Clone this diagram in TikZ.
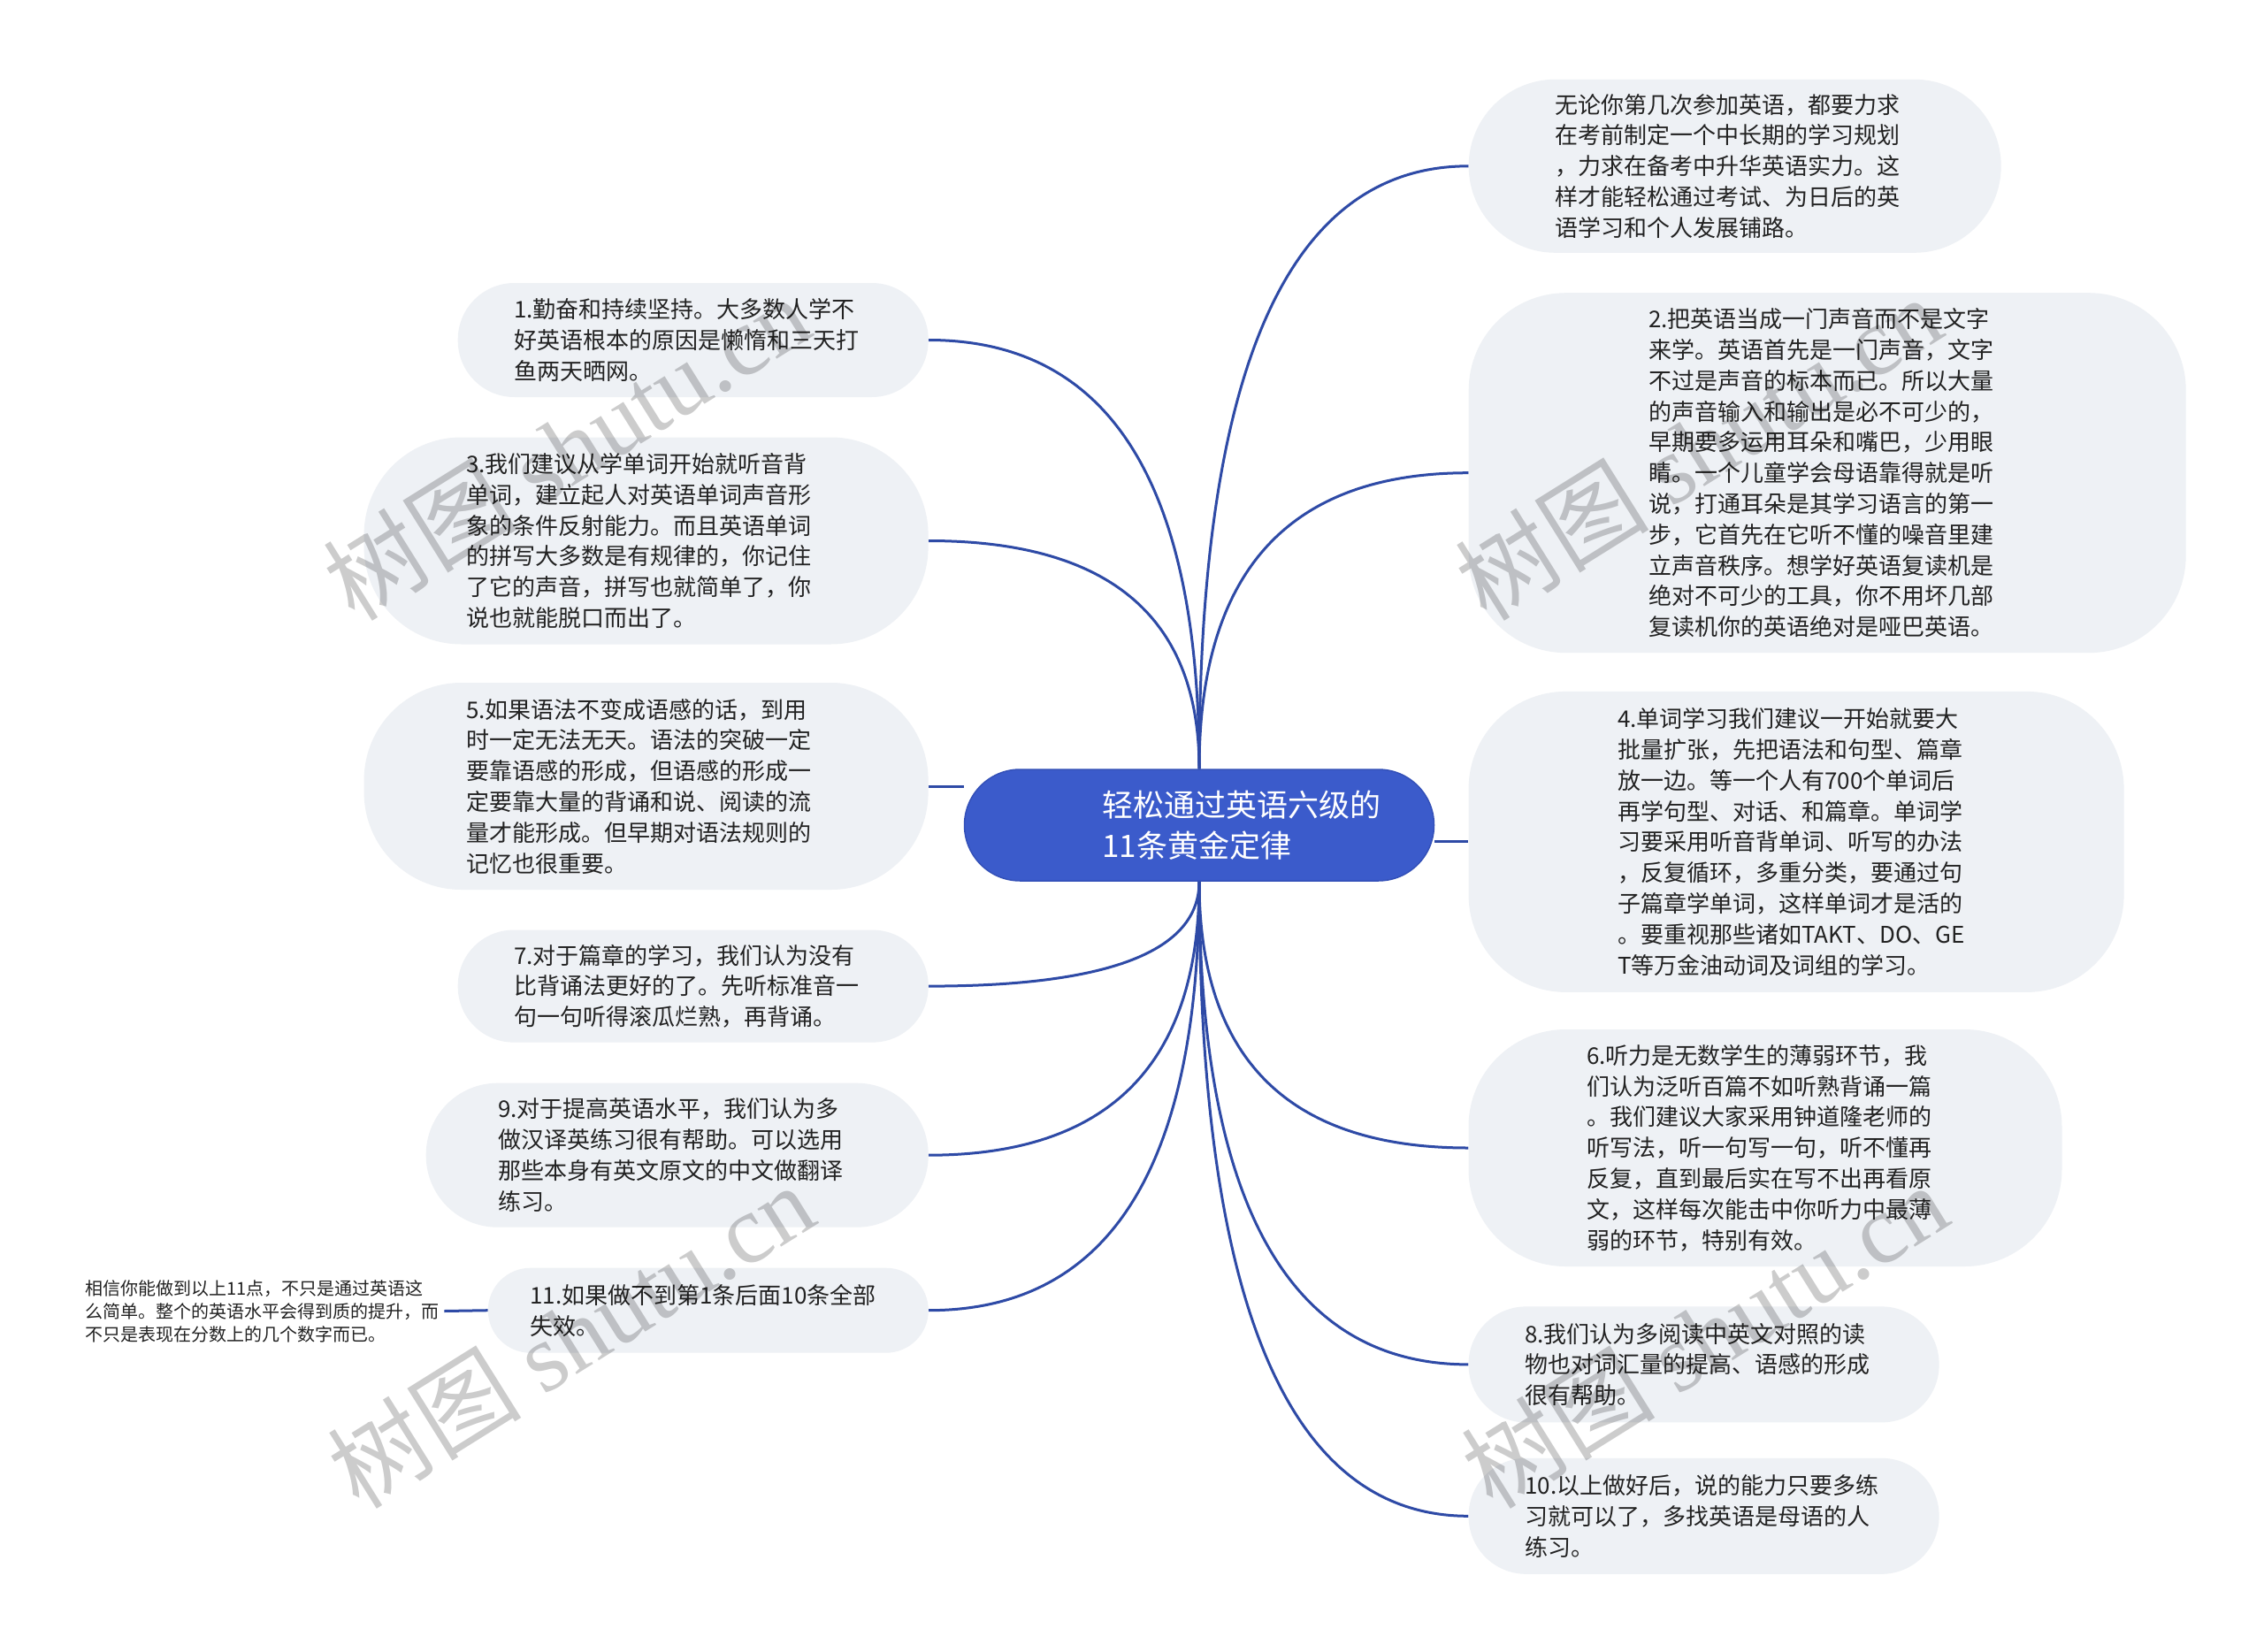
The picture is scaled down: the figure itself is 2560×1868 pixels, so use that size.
\documentclass[tikz,border=0pt]{standalone}
\usepackage{fontspec}
\newfontfamily\cjk{Noto Sans CJK SC}
\newfontfamily\wmserif{Liberation Serif}
\usetikzlibrary{calc,backgrounds}
\definecolor{bubblefill}{HTML}{EEF1F5}
\definecolor{centerfill}{HTML}{3B5BCB}
\definecolor{centerline}{HTML}{3350B8}
\definecolor{linkblue}{HTML}{2E4AA6}
\definecolor{txtcol}{HTML}{222222}
\begin{document}
\begin{tikzpicture}[x=1pt,y=-1pt,
  bubble/.style={shape=rectangle, fill=bubblefill, rounded corners=#1, inner sep=0pt},
  bubble/.default=60,
  txtnode/.style={anchor=west, inner sep=0pt, align=left, text=txtcol,
     font=\cjk\fontsize{26pt}{34.8pt}\selectfont},
  smalltxt/.style={anchor=west, inner xsep=6pt, inner ysep=0pt, align=left, text=txtcol,
     font=\cjk\fontsize{20pt}{26.1pt}\selectfont},
  centerbox/.style={shape=rectangle, fill=centerfill, draw=centerline, line width=1.5pt,
     rounded corners=63, inner sep=0pt, minimum width=531, minimum height=126},
  centertxt/.style={anchor=west, inner sep=0pt, align=left, text=white,
     font=\cjk\fontsize{35pt}{46pt}\selectfont},
  conn/.style={draw=linkblue, line width=3pt},
  branchcurve/.style={to path={.. controls ($(\tikztostart)!0.667!(\tikztostart |- \tikztotarget)$) and ($(\tikztotarget)!0.667!(\tikztostart |- \tikztotarget)$) .. (\tikztotarget)}},
  wmark/.style={rotate=32, text=black, text opacity=0.2, inner sep=0pt,
     font=\fontsize{110pt}{110pt}\selectfont}
]
\useasboundingbox (0,0) rectangle (2560,1868);

% central topic
\node[centerbox] (c) at (1356,933) {};
\node[centertxt] (ct) at (1246,933) {轻松通过英语六级的\\11条黄金定律};

% right side
\node[bubble=98, minimum width=602, minimum height=196] (r0) at (1961.7,187.8) {};
\node[txtnode] (tr0) at (1758,187.8) {无论你第几次参加英语，都要力求\\在考前制定一个中长期的学习规划\\，力求在备考中升华英语实力。这\\样才能轻松通过考试、为日后的英\\语学习和个人发展铺路。};

\node[bubble=110, minimum width=811, minimum height=407] (r1) at (2066.2,534.7) {};
\node[txtnode] (tr1) at (1864,534.7) {2.把英语当成一门声音而不是文字\\来学。英语首先是一门声音，文字\\不过是声音的标本而已。所以大量\\的声音输入和输出是必不可少的，\\早期要多运用耳朵和嘴巴，少用眼\\睛。一个儿童学会母语靠得就是听\\说，打通耳朵是其学习语言的第一\\步，它首先在它听不懂的噪音里建\\立声音秩序。想学好英语复读机是\\绝对不可少的工具，你不用坏几部\\复读机你的英语绝对是哑巴英语。};

\node[bubble=110, minimum width=741, minimum height=340] (r2) at (2031.1,951.9) {};
\node[txtnode] (tr2) at (1829,951.9) {4.单词学习我们建议一开始就要大\\批量扩张，先把语法和句型、篇章\\放一边。等一个人有700个单词后\\再学句型、对话、和篇章。单词学\\习要采用听音背单词、听写的办法\\，反复循环，多重分类，要通过句\\子篇章学单词，这样单词才是活的\\。要重视那些诸如TAKT、DO、GE\\T等万金油动词及词组的学习。};

\node[bubble=110, minimum width=671, minimum height=268] (r3) at (1996,1298) {};
\node[txtnode] (tr3) at (1794,1298) {6.听力是无数学生的薄弱环节，我\\们认为泛听百篇不如听熟背诵一篇\\。我们建议大家采用钟道隆老师的\\听写法，听一句写一句，听不懂再\\反复，直到最后实在写不出再看原\\文，这样每次能击中你听力中最薄\\弱的环节，特别有效。};

\node[bubble=65, minimum width=532, minimum height=131] (r4) at (1926.6,1542.9) {};
\node[txtnode] (tr4) at (1724,1542.9) {8.我们认为多阅读中英文对照的读\\物也对词汇量的提高、语感的形成\\很有帮助。};

\node[bubble=65, minimum width=532, minimum height=131] (r5) at (1926.6,1714.3) {};
\node[txtnode] (tr5) at (1724,1714.3) {10.以上做好后，说的能力只要多练\\习就可以了，多找英语是母语的人\\练习。};

% left side
\node[bubble=64, minimum width=532, minimum height=129] (l0) at (783.7,384.5) {};
\node[txtnode] (tl0) at (581,384.5) {1.勤奋和持续坚持。大多数人学不\\好英语根本的原因是懒惰和三天打\\鱼两天晒网。};

\node[bubble=110, minimum width=638, minimum height=234] (l1) at (730.6,611.5) {};
\node[txtnode] (tl1) at (527,611.5) {3.我们建议从学单词开始就听音背\\单词，建立起人对英语单词声音形\\象的条件反射能力。而且英语单词\\的拼写大多数是有规律的，你记住\\了它的声音，拼写也就简单了，你\\说也就能脱口而出了。};

\node[bubble=110, minimum width=638, minimum height=234] (l2) at (730.6,889) {};
\node[txtnode] (tl2) at (527,889) {5.如果语法不变成语感的话，到用\\时一定无法无天。语法的突破一定\\要靠语感的形成，但语感的形成一\\定要靠大量的背诵和说、阅读的流\\量才能形成。但早期对语法规则的\\记忆也很重要。};

\node[bubble=63, minimum width=532, minimum height=127] (l3) at (783.7,1115.1) {};
\node[txtnode] (tl3) at (581,1115.1) {7.对于篇章的学习，我们认为没有\\比背诵法更好的了。先听标准音一\\句一句听得滚瓜烂熟，再背诵。};

\node[bubble=81, minimum width=568, minimum height=163] (l4) at (765.7,1306.2) {};
\node[txtnode] (tl4) at (563,1306.2) {9.对于提高英语水平，我们认为多\\做汉译英练习很有帮助。可以选用\\那些本身有英文原文的中文做翻译\\练习。};

\node[bubble=48, minimum width=498, minimum height=96] (l5) at (800.8,1481.7) {};
\node[txtnode] (tl5) at (599,1481.7) {11.如果做不到第1条后面10条全部\\失效。};

\node[smalltxt] (l6) at (90,1482.5) {相信你能做到以上11点，不只是通过英语这\\么简单。整个的英语水平会得到质的提升，而\\不只是表现在分数上的几个数字而已。};

% connectors
\begin{scope}[on background layer]
  \fill[white] (0,0) rectangle (2560,1868);
  \draw[conn] (c.north) to[branchcurve] (r0.west);
  \draw[conn] (c.north) to[branchcurve] (r1.west);
  \draw[conn] (c.east |- r2.west) -- (r2.west);
  \draw[conn] (c.south) to[branchcurve] (r3.west);
  \draw[conn] (c.south) to[branchcurve] (r4.west);
  \draw[conn] (c.south) to[branchcurve] (r5.west);
  \draw[conn] (c.north) to[branchcurve] (l0.east);
  \draw[conn] (c.north) to[branchcurve] (l1.east);
  \draw[conn] (l2.east) -- (l2.east -| c.west);
  \draw[conn] (c.south) to[branchcurve] (l3.east);
  \draw[conn] (c.south) to[branchcurve] (l4.east);
  \draw[conn] (c.south) to[branchcurve] (l5.east);
  \draw[conn] (l6.east) -- (l5.west);
\end{scope}

% watermarks
\node[wmark] (w1) at (640,506) {\cjk 树图 \wmserif shutu.cn};
\node[wmark] (w2) at (1920,506) {\cjk 树图 \wmserif shutu.cn};
\node[wmark] (w3) at (645,1510) {\cjk 树图 \wmserif shutu.cn};
\node[wmark] (w4) at (1927,1510) {\cjk 树图 \wmserif shutu.cn};
\end{tikzpicture}
\end{document}
